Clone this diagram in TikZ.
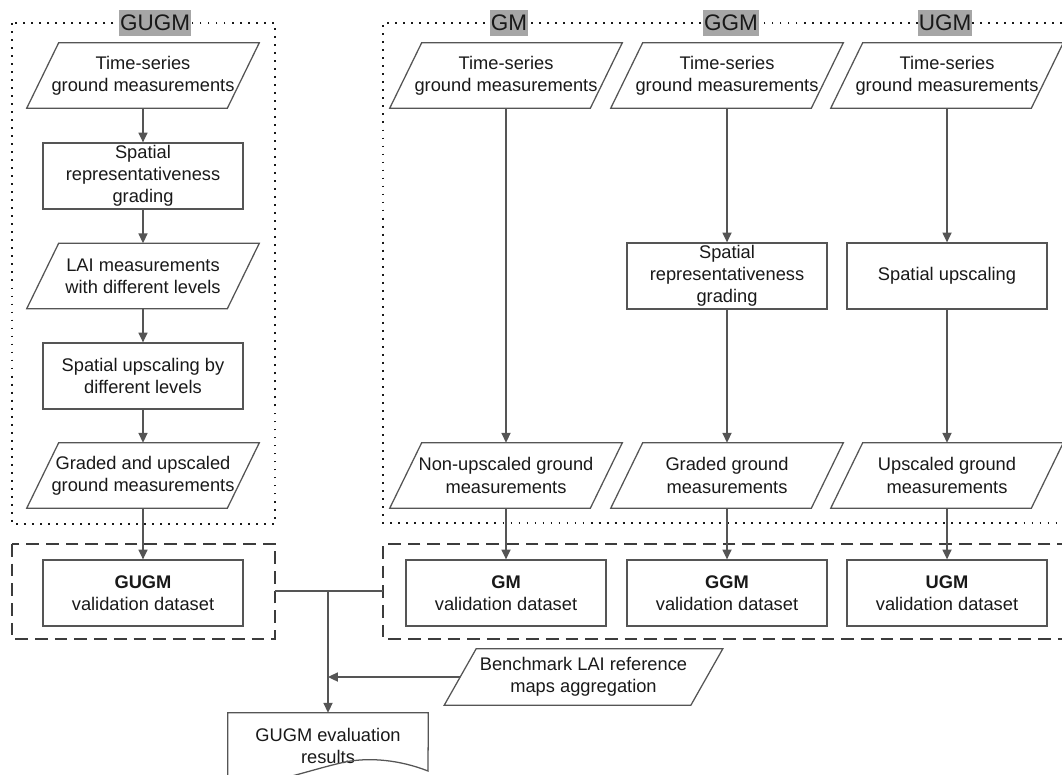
\documentclass[tikz,border=0pt]{standalone}
\usepackage{fontspec}
\setmainfont{Liberation Sans}
\usepackage{tikz}
\usetikzlibrary{arrows.meta,calc}
\definecolor{linegray}{RGB}{85,85,85}
\definecolor{headgray}{RGB}{166,166,166}
\definecolor{textblack}{RGB}{25,25,25}
\tikzset{
  stepbox/.style={draw=linegray, line width=0.9pt, minimum width=5cm, minimum height=1.65cm, align=center, inner sep=0pt, font=\fontsize{13}{15.8}\selectfont, text=textblack},
  datatext/.style={minimum width=5cm, minimum height=1.625cm, align=center, inner sep=0pt, font=\fontsize{13}{15.8}\selectfont, text=textblack},
  dataline/.style={draw=linegray, line width=0.9pt},
  flowarrow/.style={draw=linegray, line width=0.9pt, -{Triangle[length=7pt,width=6.5pt]}},
  groupdots/.style={draw=textblack, line width=1pt, dash pattern=on 1.3pt off 4.4pt},
  groupdash/.style={draw=textblack!85, line width=1pt, dash pattern=on 9pt off 5pt},
  header/.style={fill=headgray, inner xsep=0.5pt, inner ysep=3.5pt, font=\fontsize{16}{19}\selectfont, text=textblack}
}
\newcommand{\datapara}[4][]{%
  \node[datatext,#1] (#2) at (#3) {#4};
  \draw[dataline] ([xshift=-0.4cm]#2.south west) -- ([xshift=0.4cm]#2.north west) -- ([xshift=0.4cm]#2.north east) -- ([xshift=-0.4cm]#2.south east) -- cycle;
}

\begin{document}
\begin{tikzpicture}[x=0.025cm, y=-0.025cm]
\useasboundingbox (0,0) rectangle (1062,774);
% group frames
\draw[groupdots] (12,23) rectangle (275,524);
\draw[groupdots] (1070,23) -- (383,23) -- (383,523) -- (1070,523);
\draw[groupdash] (12,544) rectangle (275,639);
\draw[groupdash] (1070,544) -- (383,544) -- (383,639) -- (1070,639);

% GUGM column
\datapara{lts}{143,75.5}{Time-series\\ground measurements}
\node[stepbox] (lgrade) at (143,176) {Spatial\\representativeness\\grading};
\datapara{llai}{143,276}{LAI measurements\\with different levels}
\node[stepbox] (lups) at (143,376) {Spatial upscaling by\\different levels};
\datapara{lgu}{143,475.5}{Graded and upscaled\\ground measurements};
\node[stepbox] (gugmval) at (143,593) {\textbf{GUGM}\\validation dataset};

% GM, GGM, UGM columns
\datapara{gmts}{506,75.5}{Time-series\\ground measurements}
\datapara{ggmts}{727,75.5}{Time-series\\ground measurements}
\datapara{ugmts}{947,75.5}{Time-series\\ground measurements}
\node[stepbox] (ggmgrade) at (727,276) {Spatial\\representativeness\\grading};
\node[stepbox] (ugmups) at (947,276) {Spatial upscaling};
\datapara{gmout}{506,475.5}{Non-upscaled ground\\measurements}
\datapara{ggmout}{727,475.5}{Graded ground\\measurements}
\datapara{ugmout}{947,475.5}{Upscaled ground\\measurements}
\node[stepbox] (gmval) at (506,593) {\textbf{GM}\\validation dataset};
\node[stepbox] (ggmval) at (727,593) {\textbf{GGM}\\validation dataset};
\node[stepbox] (ugmval) at (947,593) {\textbf{UGM}\\validation dataset};

\datapara[minimum width=6.15cm, minimum height=1.4cm]{bench}{583.5,677}{Benchmark LAI reference\\maps aggregation}
\node[datatext, minimum height=1.65cm] (gres) at (328,746) {GUGM evaluation\\results};
\draw[dataline] ([yshift=-0.05cm]gres.south west) -- (gres.north west) -- (gres.north east) -- (428,771)
  .. controls (400,760) and (370,757) .. (345,762) .. controls (300,772) and (260,790) .. (228,780);

% headers
\node[header] (hgugm) at (155,23) {GUGM};
\node[header] (hgm) at (509,23) {GM};
\node[header] (hggm) at (731,23) {GGM};
\node[header] (hugm) at (945,23) {UGM};

% flow
\draw[flowarrow] (lts) -- (lgrade);
\draw[flowarrow] (lgrade) -- (llai);
\draw[flowarrow] (llai) -- (lups);
\draw[flowarrow] (lups) -- (lgu);
\draw[flowarrow] (lgu) -- (gugmval);
\draw[flowarrow] (gmts) -- (gmout);
\draw[flowarrow] (ggmts) -- (ggmgrade);
\draw[flowarrow] (ggmgrade) -- (ggmout);
\draw[flowarrow] (ugmts) -- (ugmups);
\draw[flowarrow] (ugmups) -- (ugmout);
\draw[flowarrow] (gmout) -- (gmval);
\draw[flowarrow] (ggmout) -- (ggmval);
\draw[flowarrow] (ugmout) -- (ugmval);

\coordinate (ljoin) at (275,591);
\coordinate (rjoin) at (383,591);
\coordinate (jn) at (328,591);
\draw[dataline] (ljoin) -- (rjoin);
\draw[flowarrow] (jn) -- (gres);
\draw[flowarrow] (bench) -- (bench -| jn);
\end{tikzpicture}
\end{document}
